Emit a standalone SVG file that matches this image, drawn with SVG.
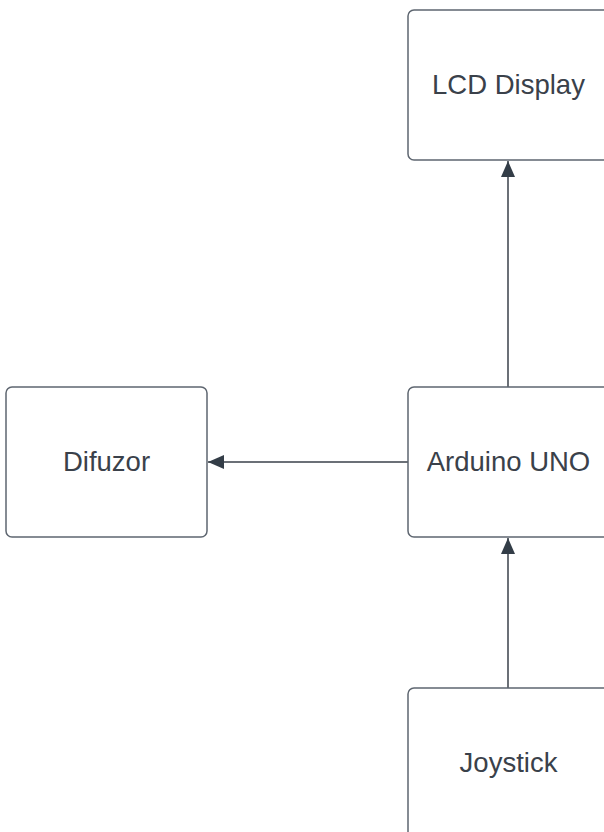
<svg xmlns="http://www.w3.org/2000/svg" width="604" height="832" viewBox="0 0 604 832">
<style>
.box{fill:#ffffff;stroke:#5e6670;stroke-width:1.5}
.lbl{font-family:"Liberation Sans",Arial,sans-serif;font-size:27.5px;fill:#3a414a;text-anchor:middle;dominant-baseline:central}
.edge{stroke:#3a414a;stroke-width:1.5;fill:none}
</style>
<defs>
<marker id="arr" viewBox="0 0 16 14" refX="16" refY="7" markerWidth="16" markerHeight="14" markerUnits="userSpaceOnUse" orient="auto">
<path d="M0,0 L16,7 L0,14 Z" fill="#333d47"/>
</marker>
</defs>
<rect width="604" height="832" fill="#ffffff"/>
<g id="connectors">
<line class="edge" x1="508" y1="387" x2="508" y2="161" marker-end="url(#arr)"/>
<line class="edge" x1="408" y1="462" x2="208" y2="462" marker-end="url(#arr)"/>
<line class="edge" x1="508" y1="688" x2="508" y2="538" marker-end="url(#arr)"/>
</g>
<g id="lcd">
<rect class="box" x="408" y="10" width="201" height="150" rx="6"/>
<text class="lbl" x="508.5" y="84">LCD Display</text>
</g>
<g id="arduino">
<rect class="box" x="408" y="387" width="201" height="150" rx="6"/>
<text class="lbl" x="508.5" y="461.5">Arduino UNO</text>
</g>
<g id="difuzor">
<rect class="box" x="6" y="387" width="201" height="150" rx="6"/>
<text class="lbl" x="106.5" y="461.5">Difuzor</text>
</g>
<g id="joystick">
<rect class="box" x="408" y="688" width="201" height="150" rx="6"/>
<text class="lbl" x="508.5" y="762">Joystick</text>
</g>
</svg>
